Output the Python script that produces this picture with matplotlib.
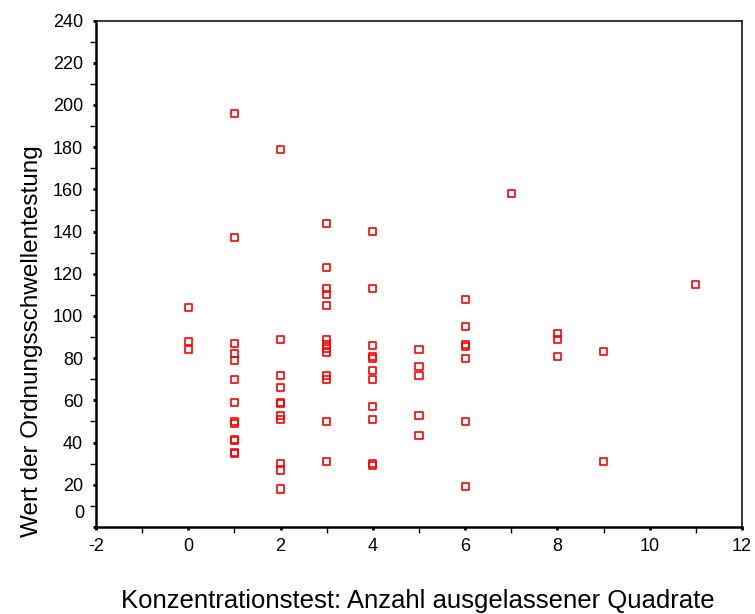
import matplotlib
matplotlib.use("Agg")
import matplotlib.pyplot as plt
from matplotlib.ticker import MultipleLocator, FuncFormatter

# Data: x = Anzahl ausgelassener Quadrate, y = Wert der Ordnungsschwellentestung
ausgelassen = [0, 0, 0,
               1, 1, 1, 1, 1, 1, 1, 1, 1, 1, 1, 1, 1,
               2, 2, 2, 2, 2, 2, 2, 2, 2, 2, 2,
               3, 3, 3, 3, 3, 3, 3, 3, 3, 3, 3, 3, 3,
               4, 4, 4, 4, 4, 4, 4, 4, 4, 4, 4,
               5, 5, 5, 5, 5,
               6, 6, 6, 6, 6, 6, 6,
               7,
               8, 8, 8,
               9, 9,
               11]
wert = [104, 88, 84,
        196, 137, 87, 82, 79, 70, 59, 50, 49, 41.5, 41, 35.5, 35,
        179, 89, 72, 66, 59, 58.5, 53, 51, 30, 27, 18,
        144, 123, 113, 110, 105, 89, 86.5, 84.5, 82.5, 72, 70, 50, 31,
        140, 113, 86, 81, 80, 74, 70, 57, 51, 30, 29,
        84, 76, 72, 53, 43.5,
        108, 95, 86.5, 85.5, 80, 50, 19,
        158,
        91.5, 89, 81,
        83, 31,
        115]

x_label = "Konzentrationstest: Anzahl ausgelassener Quadrate"
y_label = "Wert der Ordnungsschwellentestung"

plt.rcParams['font.family'] = ['Liberation Sans', 'DejaVu Sans']

fig = plt.figure(figsize=(7.55, 6.14), dpi=100)
ax = fig.add_axes([96/755, 1 - 527/614, (742 - 96)/755, (527 - 20.5)/614])

ax.scatter(ausgelassen, wert, marker='s', s=26, facecolors='none',
           edgecolors='#ff0000', linewidths=1.2, zorder=3, clip_on=False)

ax.set_xlim(-2, 12)
ax.set_ylim(0, 240)
ax.xaxis.set_major_locator(MultipleLocator(2))
ax.xaxis.set_minor_locator(MultipleLocator(1))
ax.yaxis.set_major_locator(MultipleLocator(20))
ax.yaxis.set_minor_locator(MultipleLocator(10))

ax.yaxis.set_major_formatter(FuncFormatter(lambda v, p: "" if abs(v) < 1e-9 else f"{v:.0f}"))
ax.xaxis.set_major_formatter(FuncFormatter(lambda v, p: f"{v:.0f}"))

tick_fs = 13
ax.tick_params(axis='both', which='major', direction='out', length=2.2, width=2.0,
               labelsize=tick_fs, color='black')
ax.tick_params(axis='both', which='minor', direction='out', length=4.5, width=1.0,
               color='black')
ax.tick_params(axis='y', which='major', pad=7)
ax.tick_params(axis='x', which='major', pad=5.5)
ax.tick_params(top=False, right=False, which='both')

# "0" label placed slightly above the axis corner
ax.annotate("0", xy=(0, 0), xycoords=('axes fraction', 'data'),
            xytext=(-11.5, 13.5), textcoords='offset pixels',
            ha='right', va='center', fontsize=tick_fs)

for side in ['left', 'bottom']:
    ax.spines[side].set_linewidth(1.8)
for side in ['top', 'right']:
    ax.spines[side].set_linewidth(1.1)

fig.text(418/755, 1 - 601/614, x_label, ha='center', va='center', fontsize=18.5)
fig.text(32/755, 1 - 341/614, y_label, ha='center', va='center',
         rotation=90, fontsize=17.5)

fig.savefig("out.png", dpi=100, facecolor='white')
